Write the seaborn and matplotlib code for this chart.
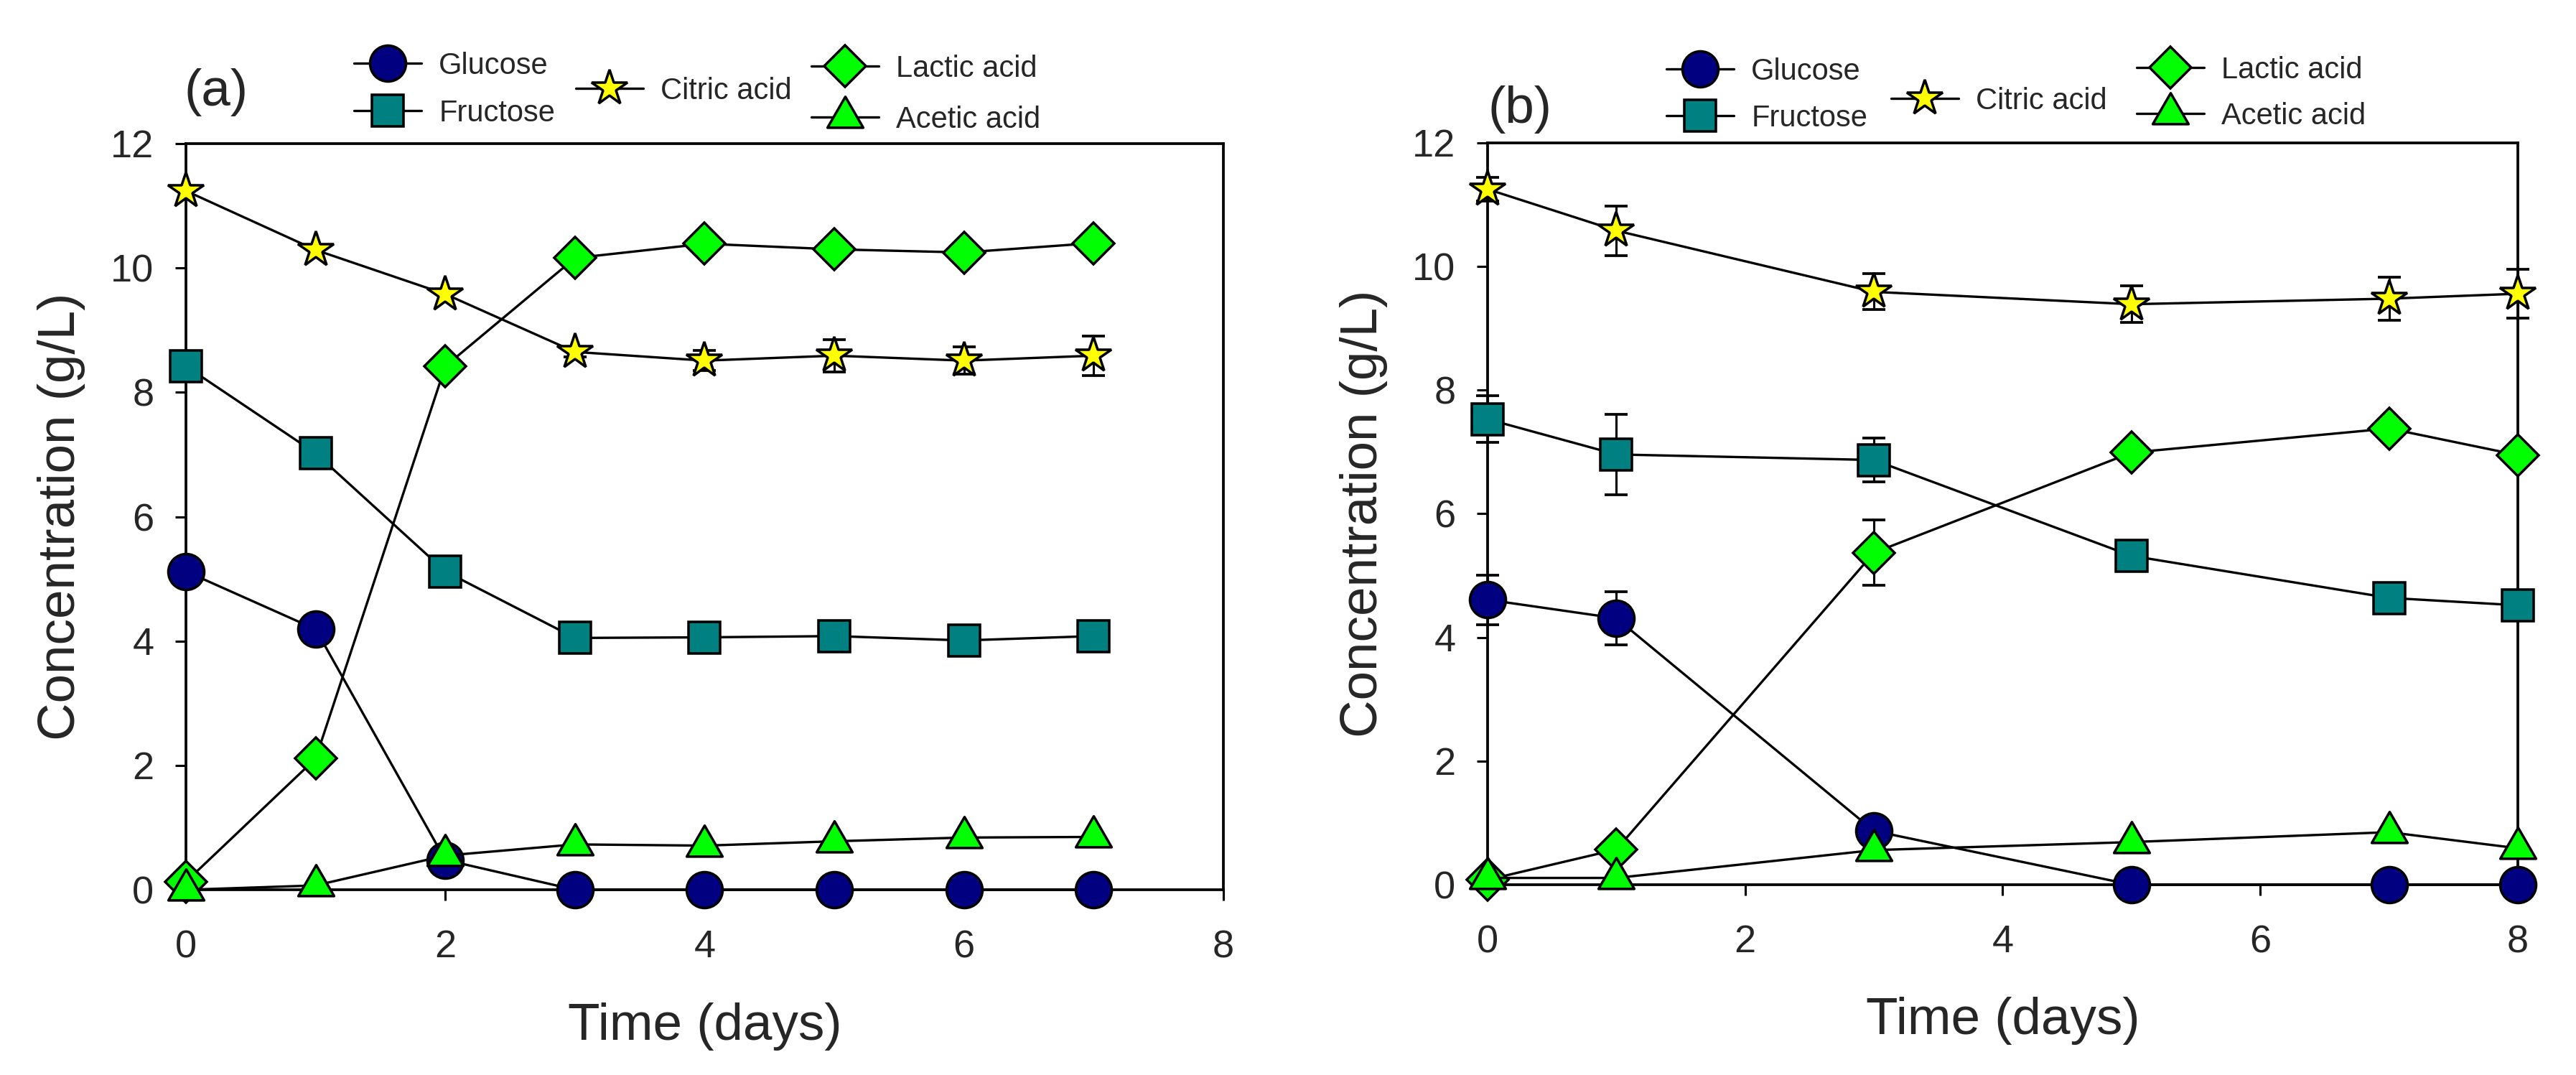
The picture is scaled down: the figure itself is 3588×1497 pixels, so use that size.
import numpy as np
import matplotlib
matplotlib.use("Agg")
import matplotlib.pyplot as plt
from matplotlib.path import Path
import seaborn as sns

# ---------------- data ----------------
series_names = ["Glucose", "Fructose", "Citric acid", "Lactic acid", "Acetic acid"]

# Panel (a)
days_a = [0, 1, 2, 3, 4, 5, 6, 7]
glucose_a = [5.12, 4.19, 0.48, 0.0, 0.0, 0.0, 0.0, 0.0]
fructose_a = [8.42, 7.02, 5.12, 4.05, 4.06, 4.08, 4.01, 4.08]
citric_a = [11.24, 10.29, 9.58, 8.65, 8.51, 8.59, 8.51, 8.59]
citric_a_err = [0.0, 0.0, 0.0, 0.08, 0.16, 0.26, 0.22, 0.32]
lactic_a = [0.13, 2.11, 8.42, 10.16, 10.39, 10.30, 10.25, 10.40]
acetic_a = [0.0, 0.07, 0.55, 0.73, 0.71, 0.78, 0.84, 0.85]

# Panel (b)
days_b = [0, 1, 3, 5, 7, 8]
glucose_b = [4.61, 4.31, 0.87, 0.0, 0.0, 0.0]
glucose_b_err = [0.40, 0.43, 0.0, 0.0, 0.0, 0.0]
fructose_b = [7.53, 6.96, 6.87, 5.32, 4.64, 4.52]
fructose_b_err = [0.38, 0.65, 0.35, 0.0, 0.0, 0.0]
citric_b = [11.25, 10.58, 9.59, 9.39, 9.48, 9.56]
citric_b_err = [0.19, 0.40, 0.29, 0.30, 0.35, 0.40]
lactic_b = [0.08, 0.57, 5.37, 6.99, 7.38, 6.95]
lactic_b_err = [0.0, 0.0, 0.53, 0.0, 0.0, 0.0]
acetic_b = [0.11, 0.11, 0.56, 0.69, 0.85, 0.59]

x_ticks = [0, 2, 4, 6, 8]
y_ticks = [0, 2, 4, 6, 8, 10, 12]

# ---------------- style ----------------
sns.set_style("ticks")
plt.rcParams["font.family"] = ["Liberation Sans", "DejaVu Sans"]

W, H, DPI = 3588, 1497, 300
fig = plt.figure(figsize=(W / DPI, H / DPI), dpi=DPI)

tri = Path([(0.0, 1.0), (-0.866, -0.5), (0.866, -0.5), (0.0, 0.0)], closed=True)
colors = ["#000080", "#008080", "#FFFF00", "#00FF00", "#00FF00"]
markers = ["o", "s", "*", "D", tri]
msizes = [12.0, 10.4, 12.5, 9.8, 13.8]


def draw_panel(rect, days, values, errors, legend_pos, tag, tag_pos):
    ax = fig.add_axes(rect)
    handles = []
    for i, (vals, err) in enumerate(zip(values, errors)):
        if err is not None:
            e = np.asarray(err)
            m = e > 0
            ax.errorbar(np.asarray(days)[m], np.asarray(vals)[m], yerr=e[m], fmt="none",
                        ecolor="black", elinewidth=0.75, capsize=3.9, capthick=0.9,
                        zorder=2 + i * 0.1, clip_on=False)
        sns.lineplot(x=days, y=vals, ax=ax, color="black", linewidth=0.8,
                     marker=markers[i], markersize=msizes[i],
                     markerfacecolor=colors[i], markeredgecolor="black",
                     markeredgewidth=0.85, clip_on=False, legend=False,
                     errorbar=None, zorder=3 + i * 0.1)
        handles.append(ax.lines[-1])

    ax.set_xlim(0, 8)
    ax.set_ylim(0, 12)
    ax.set_xticks(x_ticks)
    ax.set_yticks(y_ticks)
    for s in ax.spines.values():
        s.set_visible(True)
        s.set_linewidth(0.9)
        s.set_color("black")
    ax.tick_params(axis="both", which="both", direction="out", length=3.7, width=0.75,
                   labelsize=13, top=False, right=False, color="black")
    ax.tick_params(axis="y", pad=7)
    ax.tick_params(axis="x", pad=9.6)
    ax.set_xlabel("Time (days)", fontsize=17.5)
    ax.set_ylabel("Concentration (g/L)", fontsize=17.5)
    ax.yaxis.set_label_coords(-0.097, 0.5)
    ax.xaxis.set_label_coords(0.5, -0.151)

    for h, name, (lx, ly) in zip(handles, series_names, legend_pos):
        fig.legend(handles=[h], labels=[name], loc="center left",
                   bbox_to_anchor=(lx / W, 1 - ly / H), frameon=False,
                   borderpad=0, borderaxespad=0, handlelength=2.26,
                   handletextpad=0.58, fontsize=10, numpoints=1)
    fig.text(tag_pos[0] / W, 1 - tag_pos[1] / H, tag, fontsize=17.5,
             ha="center", va="center")
    return ax


draw_panel([0.0722, 0.1723, 0.4027, 0.6941], days_a,
           [glucose_a, fructose_a, citric_a, lactic_a, acetic_a],
           [None, None, citric_a_err, None, None],
           [(493, 92), (493, 158), (802, 127), (1130, 96), (1130, 167)],
           "(a)", (301, 129))

draw_panel([0.5775, 0.1770, 0.3999, 0.6901], days_b,
           [glucose_b, fructose_b, citric_b, lactic_b, acetic_b],
           [glucose_b_err, fructose_b_err, citric_b_err, lactic_b_err, None],
           [(2321, 100), (2321, 165), (2634, 141), (2976, 98), (2976, 162)],
           "(b)", (2117, 153))

fig.savefig("out.png", dpi=DPI, facecolor="white")
